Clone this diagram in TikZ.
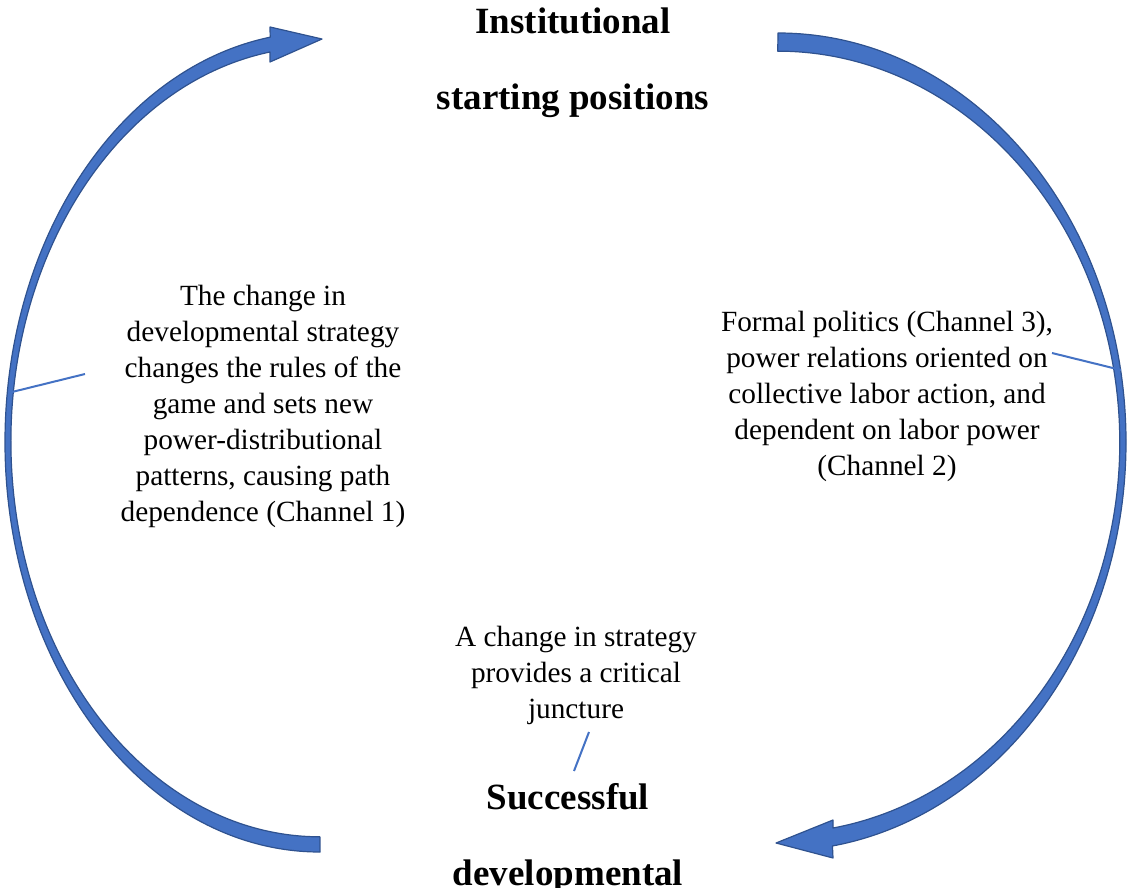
\documentclass[tikz,border=0pt]{standalone}
\usepackage{fontspec}
\setmainfont{Liberation Serif}
\usepackage{tikz}
\usepackage{xcolor}
\definecolor{arrowfill}{RGB}{68,114,196}
\definecolor{arrowedge}{RGB}{47,82,143}
\definecolor{calloutblue}{RGB}{68,114,196}
\tikzset{
    loop-arrow/.style = {fill=arrowfill, draw=arrowedge, line width=1.2pt, line join=round},
    callout-line/.style = {draw=calloutblue, line width=2pt},
    title-text/.style = {font=\bfseries\fontsize{37}{76}\selectfont, align=center, inner sep=0pt, anchor=north},
    body-text/.style = {font=\fontsize{29.3}{36}\selectfont, align=center, inner sep=0pt, anchor=north},
}

\begin{document}
\begin{tikzpicture}[x=1pt, y=-1pt]
\useasboundingbox (0,0) rectangle (1129,888);

% left arrow: from the bottom, round the left side, up to the top
\filldraw[loop-arrow] (320,852)
    arc[start angle=90, end angle=260.9, x radius=315, y radius=410]
    -- (270,27) -- (322,39) -- (270,62) -- (270,52)
    arc[start angle=260.7, end angle=90, x radius=309, y radius=395]
    -- cycle;

% right arrow: from the top, round the right side, down to the bottom
\filldraw[loop-arrow] (778,33)
    arc[start angle=-90, end angle=81, x radius=348, y radius=409]
    -- (833,858) -- (776,843) -- (833,820) -- (833,828)
    arc[start angle=80.7, end angle=-90, x radius=342, y radius=391]
    -- cycle;

\node[title-text] (start) at (573,8) {Institutional\\starting positions};
\node[title-text] (success) at (568,783) {Successful\\developmental};

\node[body-text] (channel1) at (263,285) {The change in\\developmental strategy\\changes the rules of the\\game and sets new\\power-distributional\\patterns, causing path\\dependence (Channel 1)};
\node[body-text] (channel23) at (887,311) {Formal politics (Channel 3),\\power relations oriented on\\collective labor action, and\\dependent on labor power\\(Channel 2)};
\node[body-text] (juncture) at (576,626) {A change in strategy\\provides a critical\\juncture};

% callout lines
\coordinate (left-tip) at (85,374);
\coordinate (left-arc) at (12,392);
\coordinate (right-tip) at (1052,353);
\coordinate (right-arc) at (1121,370);
\coordinate (juncture-tip) at (589,732);
\coordinate (success-tip) at (574,771);
\draw[callout-line] (left-tip) -- (left-arc);
\draw[callout-line] (right-tip) -- (right-arc);
\draw[callout-line] (juncture-tip) -- (success-tip);
\end{tikzpicture}
\end{document}
